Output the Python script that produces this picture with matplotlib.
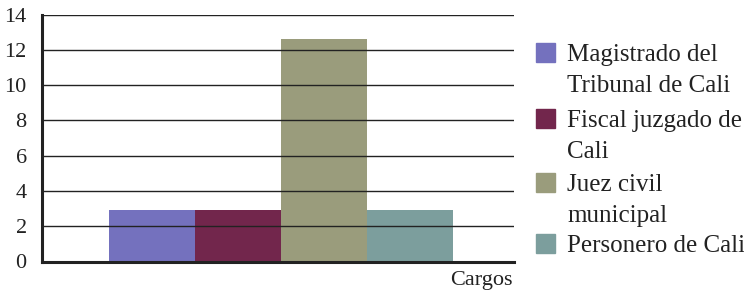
import numpy as np
import matplotlib
matplotlib.use('Agg')
import matplotlib.pyplot as plt
from matplotlib.patches import Rectangle

plt.rcParams['font.family'] = ['Liberation Serif', 'DejaVu Serif']

# Data
labels = ['Magistrado del\nTribunal de Cali', 'Fiscal juzgado de\nCali',
          'Juez civil\nmunicipal', 'Personero de Cali']
values = [2.9, 2.9, 12.6, 2.9]
colors = ['#7471be', '#72264c', '#9a9c7c', '#7c9e9d']
yticks = [0, 2, 4, 6, 8, 10, 12, 14]

W, H = 744, 299
fig = plt.figure(figsize=(W / 100, H / 100), dpi=100)
ax = fig.add_axes([42 / W, 1 - 261.5 / H, 472 / W, (261.5 - 14.7) / H])

w = 0.182
offsets = (np.arange(len(values)) - 1.5) * w + 0.006
ax.bar(offsets, values, width=w, color=colors, zorder=2)

ax.set_xlim(-0.5, 0.5)
ax.set_ylim(0, 14)
ax.set_yticks(yticks)
ax.set_xticks([])
ax.tick_params(axis='y', length=0, labelsize=16, pad=11, colors='#222222')
ax.yaxis.grid(True, color='#222222', linewidth=1.0, zorder=1)
ax.set_axisbelow(False)
for s in ['top', 'right']:
    ax.spines[s].set_visible(False)
for s in ['left', 'bottom']:
    ax.spines[s].set_linewidth(2.2)
    ax.spines[s].set_color('#222222')
    ax.spines[s].set_zorder(3)

fig.text(513 / W, 1 - 285 / H, 'Cargos', ha='right', va='baseline',
         fontsize=16, color='#222222')

# legend drawn by hand: square at the first line of each label
sq_tops = [43, 109, 173, 234]
for lab, col, top in zip(labels, colors, sq_tops):
    fig.patches.append(Rectangle((536 / W, 1 - (top + 19) / H), 19 / W, 19 / H,
                                 transform=fig.transFigure, color=col))
    fig.text(567 / W, 1 - (top + 1) / H, lab, ha='left', va='top',
             fontsize=18, color='#222222', linespacing=1.55)

fig.savefig('out.png', dpi=100)
